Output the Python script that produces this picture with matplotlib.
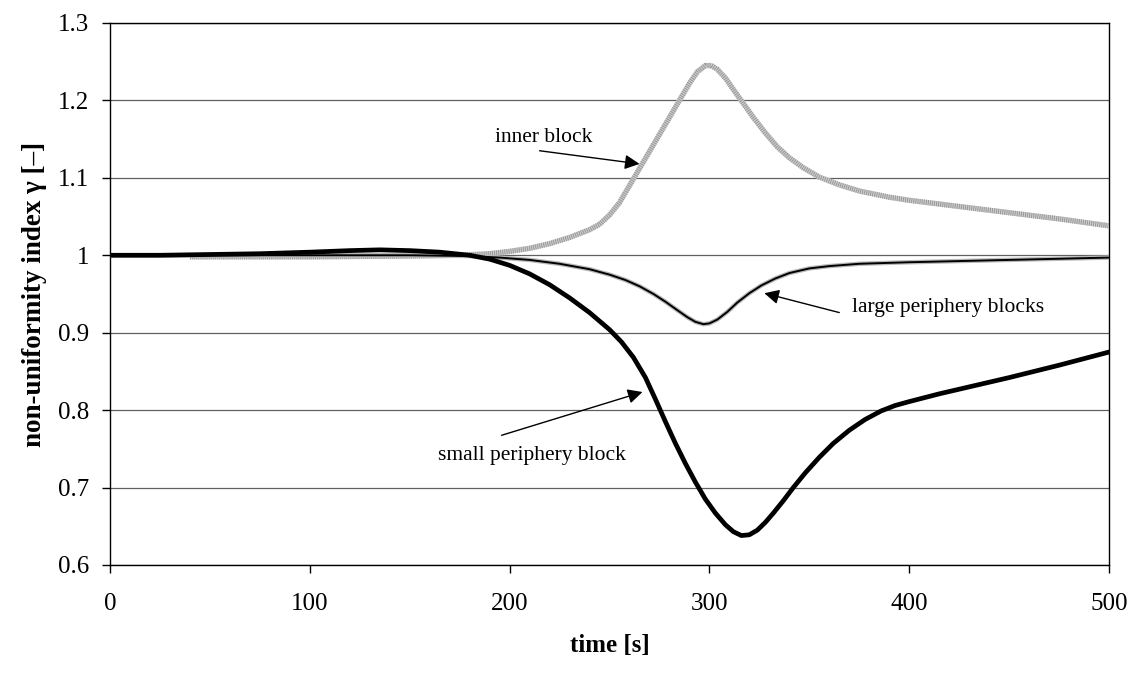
import numpy as np
import matplotlib.pyplot as plt

plt.rcParams['font.family'] = ['Liberation Serif', 'DejaVu Serif']
plt.rcParams['lines.scale_dashes'] = False

# inner block
t_inner = [40, 100, 150, 175, 190, 200, 210, 220, 230, 240, 245, 250, 255, 260, 265,
           270, 275, 280, 285, 290, 294, 298, 301, 304, 308, 312, 317, 322, 328,
           334, 340, 347, 355, 365, 375, 390, 400, 425, 450, 475, 500]
g_inner = [0.998, 0.998, 0.999, 1.000, 1.002, 1.005, 1.009, 1.015, 1.023, 1.033,
           1.040, 1.052, 1.068, 1.090, 1.112, 1.134, 1.156, 1.178, 1.200, 1.222,
           1.237, 1.245, 1.245, 1.240, 1.229, 1.214, 1.196, 1.178, 1.158, 1.140,
           1.126, 1.113, 1.101, 1.091, 1.083, 1.075, 1.071, 1.063, 1.055, 1.047,
           1.038]

# large periphery blocks
t_large = [0, 100, 150, 180, 195, 210, 225, 240, 250, 258, 265, 272, 278, 284, 289,
           293, 297, 300, 304, 309, 314, 320, 326, 333, 340, 350, 360, 375, 400,
           450, 500]
g_large = [1.000, 1.000, 1.000, 0.999, 0.997, 0.994, 0.989, 0.982, 0.975, 0.968,
           0.960, 0.950, 0.940, 0.929, 0.920, 0.914, 0.911, 0.912, 0.917, 0.927,
           0.939, 0.951, 0.961, 0.970, 0.977, 0.983, 0.986, 0.989, 0.991, 0.994,
           0.997]

# small periphery block
t_small = [0, 25, 50, 75, 100, 120, 135, 150, 165, 180, 190, 200, 210, 220, 230,
           240, 250, 256, 262, 268, 273, 278, 283, 288, 293, 298, 303, 308, 312,
           316, 320, 324, 328, 332, 337, 342, 348, 355, 362, 370, 378, 386, 393,
           400, 415, 430, 450, 475, 500]
g_small = [1.000, 1.000, 1.001, 1.002, 1.004, 1.006, 1.007, 1.006, 1.004, 1.000,
           0.995, 0.987, 0.976, 0.962, 0.945, 0.926, 0.904, 0.888, 0.868, 0.842,
           0.814, 0.785, 0.757, 0.731, 0.707, 0.685, 0.667, 0.652, 0.643, 0.638,
           0.639, 0.645, 0.655, 0.667, 0.683, 0.700, 0.719, 0.739, 0.757, 0.774,
           0.788, 0.799, 0.806, 0.811, 0.821, 0.830, 0.842, 0.858, 0.875]

x_ticks = [0, 100, 200, 300, 400, 500]
y_ticks = [0.6, 0.7, 0.8, 0.9, 1.0, 1.1, 1.2, 1.3]
y_labels = ['0.6', '0.7', '0.8', '0.9', '1', '1.1', '1.2', '1.3']

fig = plt.figure(figsize=(11.4, 6.78), dpi=100)
ax = fig.add_axes([0.0965, 0.1667, 0.8763, 0.7994])

# striped grey line for the inner block
ax.plot(t_inner, g_inner, color='#cfcfcf', lw=3.8, solid_capstyle='butt', zorder=3)
ax.plot(t_inner, g_inner, color='#9a9a9a', lw=3.8, dashes=(0.75, 0.75),
        dash_capstyle='butt', zorder=3)

# thin black line with grey halo
ax.plot(t_large, g_large, color='#b8b8b8', lw=3.2, zorder=4)
ax.plot(t_large, g_large, color='black', lw=1.4, zorder=4)

ax.plot(t_small, g_small, color='black', lw=3.4, zorder=5)

ax.set_xlim(0, 500)
ax.set_ylim(0.6, 1.3)
ax.set_xticks(x_ticks)
ax.set_yticks(y_ticks)
ax.set_yticklabels(y_labels)
ax.tick_params(axis='both', direction='out', length=6, width=1, labelsize=18)
ax.tick_params(axis='y', pad=9)
ax.tick_params(axis='x', pad=14)
ax.yaxis.grid(True, color='#606060', lw=0.9)
ax.set_axisbelow(True)
for s in ax.spines.values():
    s.set_linewidth(1.0)
    s.set_color('black')

ax.set_xlabel('time [s]', fontsize=18, fontweight='bold', labelpad=14)
ax.set_ylabel('non-uniformity index γ [–]', fontsize=19.5, fontweight='bold', labelpad=8)

arrow = dict(arrowstyle='-|>', color='black', lw=1.0, mutation_scale=22,
             shrinkA=0, shrinkB=0)

ax.text(192.5, 1.152, 'inner block', fontsize=15.5, ha='left', va='center')
ax.annotate('', xy=(265, 1.118), xytext=(215, 1.135), arrowprops=arrow)

ax.text(371.5, 0.932, 'large periphery blocks', fontsize=15.5, ha='left', va='center')
ax.annotate('', xy=(327.5, 0.951), xytext=(365, 0.926), arrowprops=arrow)

ax.text(211, 0.7416, 'small periphery block', fontsize=15.5, ha='center', va='center')
ax.annotate('', xy=(266.5, 0.8234), xytext=(196, 0.7675), arrowprops=arrow)

fig.savefig('out.png', dpi=100)
